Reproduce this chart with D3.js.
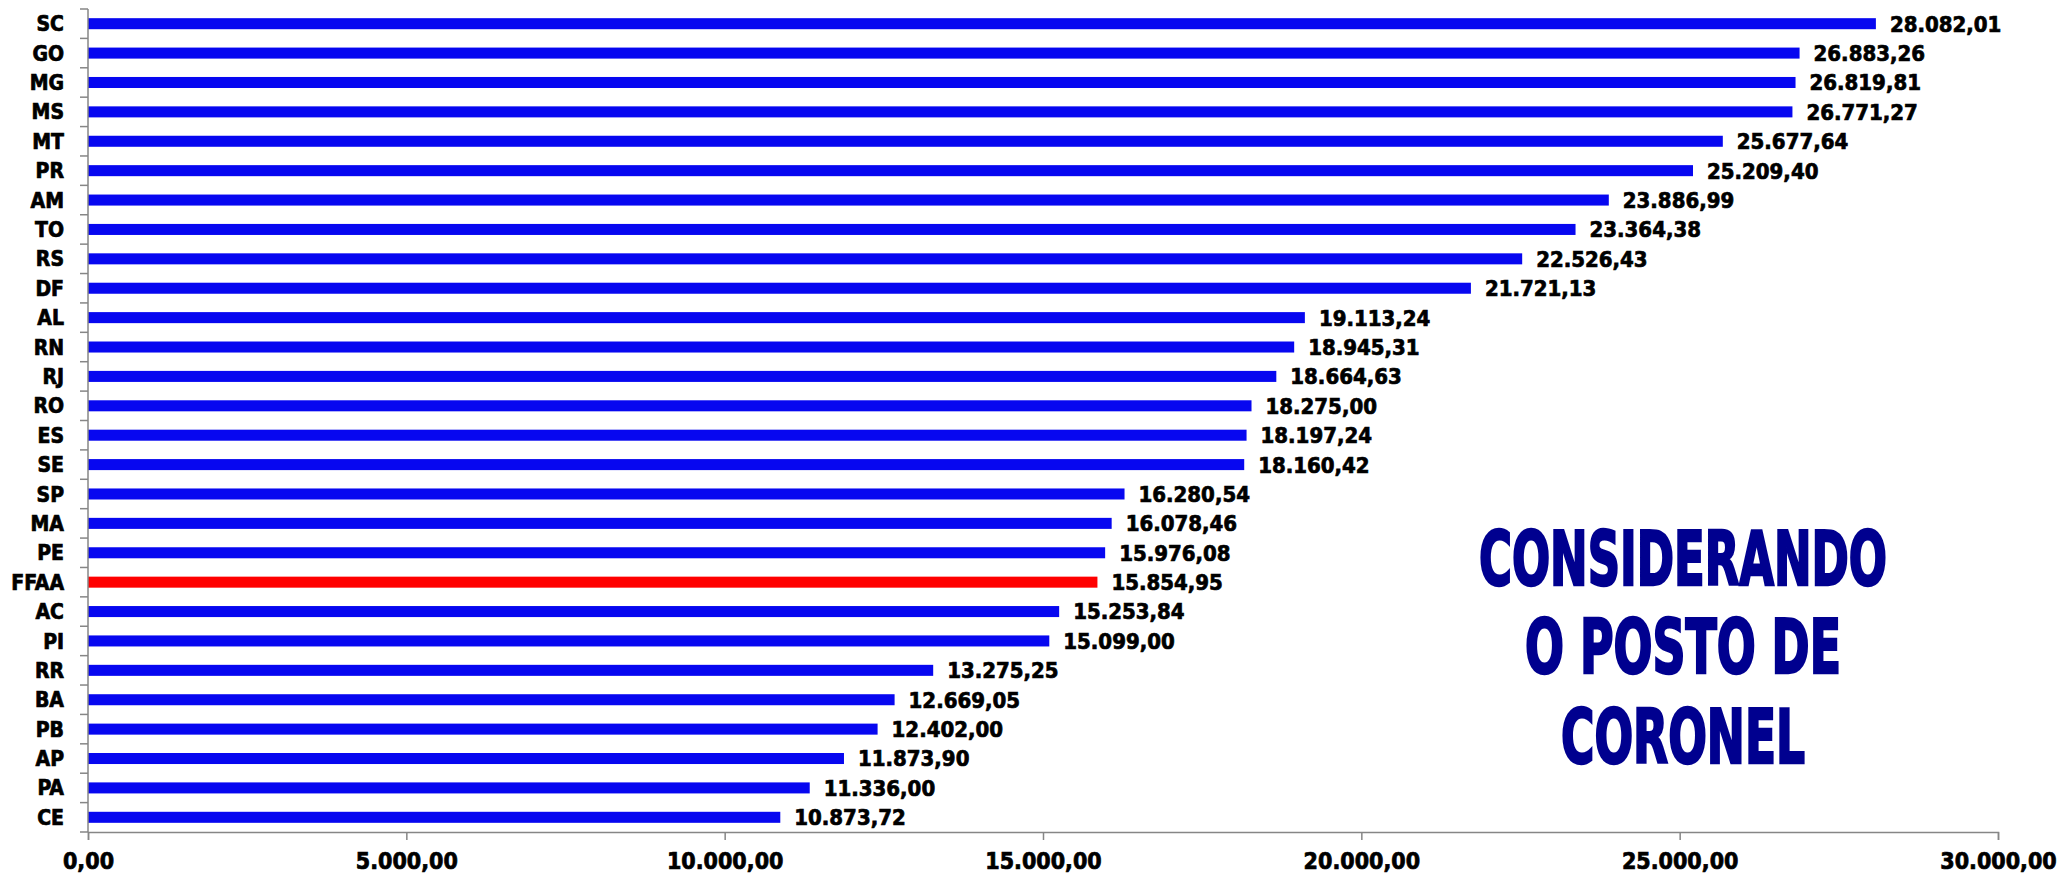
<!DOCTYPE html>
<meta charset="utf-8">
<head>
    <script type="text/javascript" src="https://cdn.jsdelivr.net/npm/d3@7/dist/d3.min.js"></script>
    <style>
        body { margin: 0; background: #fff; }
        .lbl { font-family: "DejaVu Sans Condensed", "DejaVu Sans", sans-serif; font-weight: bold; fill: #000;
               stroke: #000; stroke-width: 0.7px; }
        .title { font-family: "Liberation Sans Narrow", "DejaVu Sans Condensed", sans-serif; font-weight: bold; fill: #00008f;
                 stroke: #00008f; stroke-width: 2.5px; }
    </style>
</head>
<body>
<div id="chart"></div>
</body>
<script>
    // data
    var states = ["SC", "GO", "MG", "MS", "MT", "PR", "AM", "TO", "RS", "DF", "AL", "RN", "RJ", "RO",
        "ES", "SE", "SP", "MA", "PE", "FFAA", "AC", "PI", "RR", "BA", "PB", "AP", "PA", "CE"];
    var salaries = [28082.01, 26883.26, 26819.81, 26771.27, 25677.64, 25209.40, 23886.99, 23364.38,
        22526.43, 21721.13, 19113.24, 18945.31, 18664.63, 18275.00, 18197.24, 18160.42, 16280.54,
        16078.46, 15976.08, 15854.95, 15253.84, 15099.00, 13275.25, 12669.05, 12402.00, 11873.90,
        11336.00, 10873.72];
    var xTicks = [0, 5000, 10000, 15000, 20000, 25000, 30000];
    var highlight = "FFAA";
    var titleLines = ["CONSIDERANDO", "O POSTO DE", "CORONEL"];

    var width = 2062, height = 875;
    var plotLeft = 88, plotRight = 1998, plotTop = 9, plotBottom = 832;

    var svg = d3.select("#chart").append("svg")
        .attr("width", width)
        .attr("height", height);

    var br = d3.formatLocale({decimal: ",", thousands: ".", grouping: [3], currency: ["R$", ""]});
    var fmt = br.format(",.2f");

    var x = d3.scaleLinear().domain([0, 30000]).range([plotLeft, plotRight]);
    var y = d3.scaleBand().domain(states).range([plotTop, plotBottom]);
    var bh = y.bandwidth() * 0.375;

    // bars
    svg.selectAll("rect.bar")
        .data(states)
        .enter().append("rect")
        .attr("class", "bar")
        .attr("x", x(0))
        .attr("y", d => y(d) + (y.bandwidth() - bh) / 2)
        .attr("height", bh)
        .attr("width", (d, i) => x(salaries[i]) - x(0))
        .attr("fill", d => d === highlight ? "#ff0000" : "#0707f0");

    // value labels
    svg.selectAll("text.val")
        .data(states)
        .enter().append("text")
        .attr("class", "lbl val")
        .attr("x", (d, i) => x(salaries[i]) + 14)
        .attr("y", d => y(d) + y.bandwidth() / 2)
        .attr("dy", "0.36em")
        .style("font-size", "22px")
        .text((d, i) => fmt(salaries[i]));

    // left axis: line + ticks on band edges
    var axisColor = "#868686";
    svg.append("line")
        .attr("x1", plotLeft).attr("x2", plotLeft)
        .attr("y1", plotTop).attr("y2", plotBottom)
        .attr("stroke", axisColor).attr("stroke-width", 1.5);
    var edges = states.map(d => y(d)).concat([plotBottom]);
    svg.selectAll("line.ytick")
        .data(edges)
        .enter().append("line")
        .attr("class", "ytick")
        .attr("x1", plotLeft - 8).attr("x2", plotLeft)
        .attr("y1", d => d).attr("y2", d => d)
        .attr("stroke", axisColor).attr("stroke-width", 1.5);

    svg.selectAll("text.cat")
        .data(states)
        .enter().append("text")
        .attr("class", "lbl cat")
        .attr("x", 64)
        .attr("y", d => y(d) + y.bandwidth() / 2)
        .attr("dy", "0.36em")
        .attr("text-anchor", "end")
        .style("font-size", "21px")
        .text(d => d);

    // bottom axis
    var xAxis = d3.axisBottom(x)
        .tickValues(xTicks)
        .tickSize(8)
        .tickPadding(13)
        .tickFormat(fmt);
    var gx = svg.append("g")
        .attr("transform", "translate(0," + plotBottom + ")")
        .call(xAxis);
    gx.select(".domain").attr("stroke", axisColor).attr("stroke-width", 1.5);
    gx.selectAll(".tick line").attr("stroke", axisColor).attr("stroke-width", 1.5);
    gx.selectAll(".tick text")
        .attr("class", "lbl")
        .style("font-size", "23px")
        .attr("fill", "#000");

    // big title on the right
    var titleW = [408, 316, 244];
    var titleY = [585, 673, 763];
    svg.selectAll("text.title")
        .data(titleLines)
        .enter().append("text")
        .attr("class", "title")
        .attr("x", 1683)
        .attr("y", (d, i) => titleY[i])
        .attr("text-anchor", "middle")
        .attr("textLength", (d, i) => titleW[i])
        .attr("lengthAdjust", "spacingAndGlyphs")
        .style("font-size", "74px")
        .text(d => d);
</script>
</html>
